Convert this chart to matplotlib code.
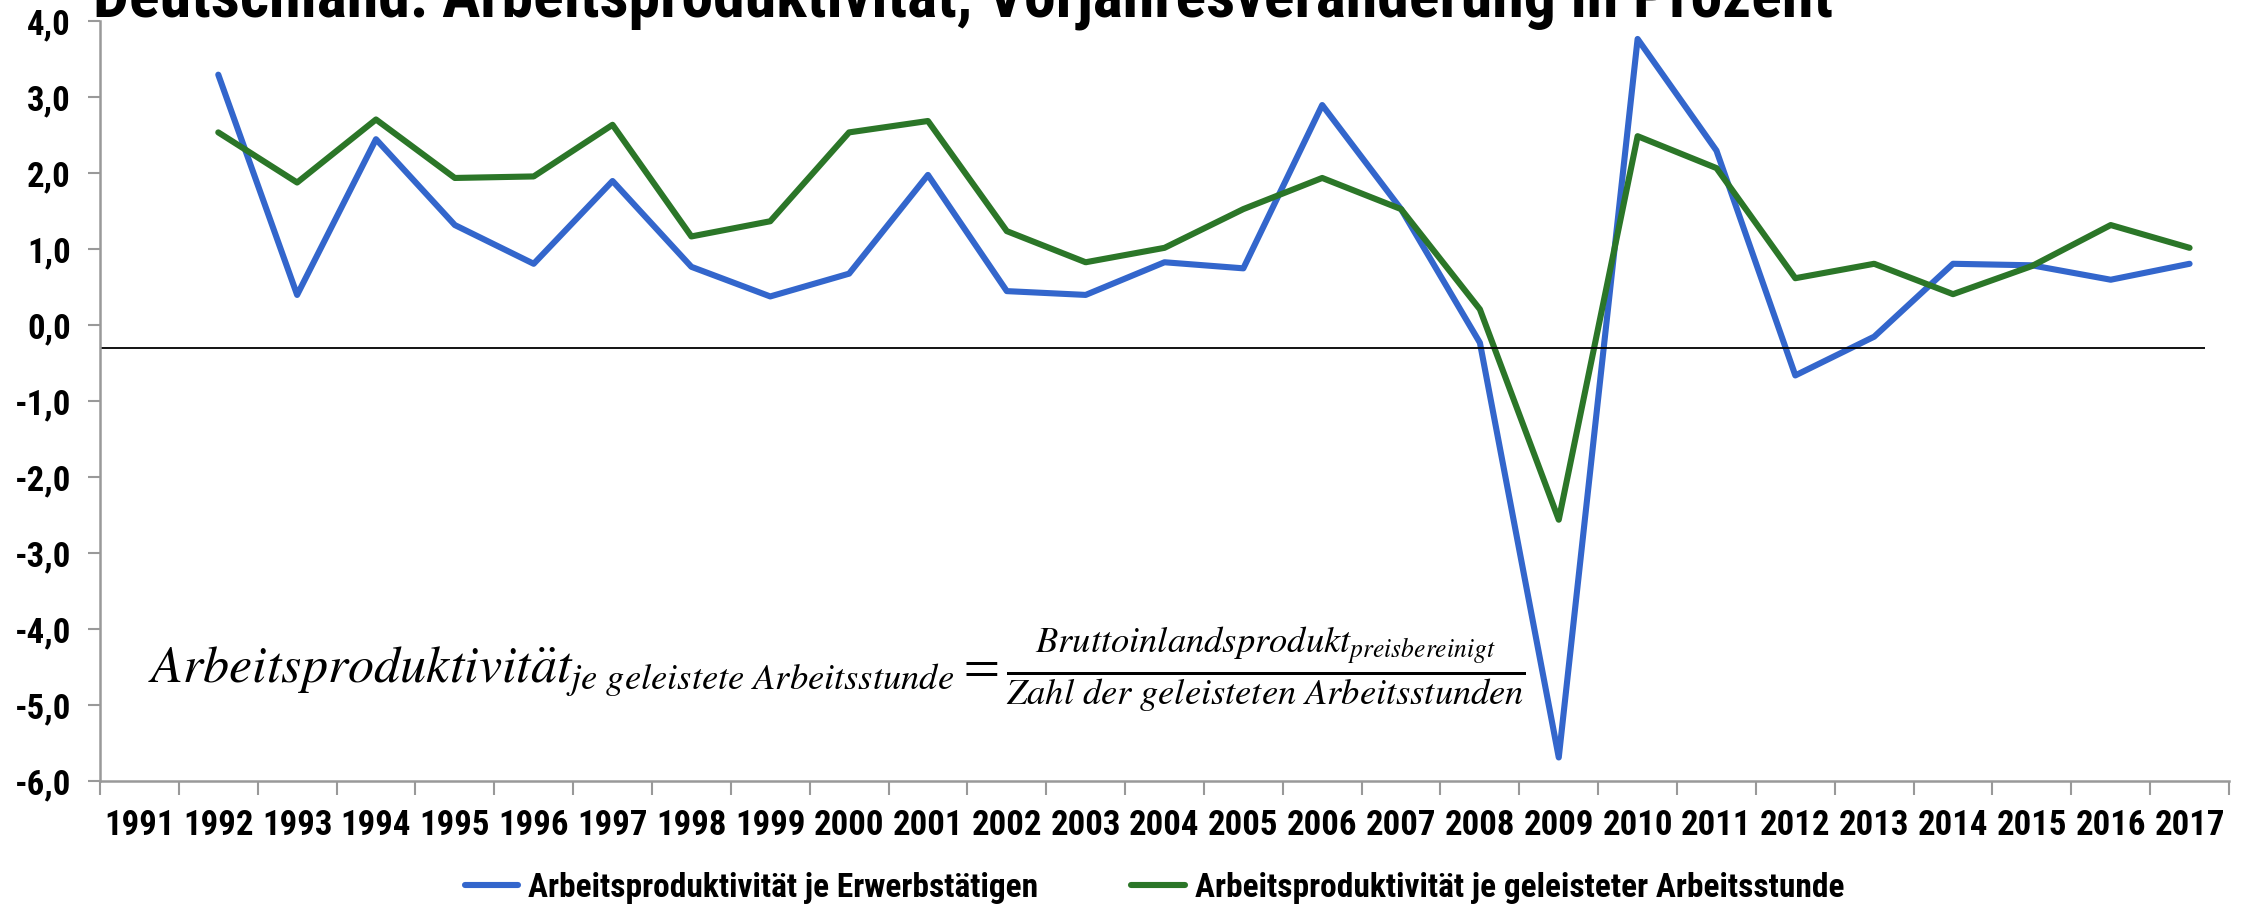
import matplotlib
matplotlib.use('Agg')
import matplotlib.pyplot as plt
from matplotlib import font_manager
import numpy as np

# data: Vorjahresveraenderung in Prozent
jahre = [str(j) for j in range(1991, 2018)]
jahre_daten = list(range(1992, 2018))
je_erwerbstaetigen = [3.3, 0.4, 2.45, 1.32, 0.81, 1.9, 0.77, 0.38, 0.68, 1.98,
                      0.45, 0.4, 0.83, 0.75, 2.9, 1.53, -0.23, -5.69, 3.77, 2.3,
                      -0.66, -0.15, 0.81, 0.79, 0.6, 0.81]
je_arbeitsstunde = [2.54, 1.88, 2.71, 1.94, 1.96, 2.64, 1.17, 1.37, 2.54, 2.69,
                    1.24, 0.83, 1.02, 1.53, 1.94, 1.53, 0.21, -2.56, 2.49, 2.07,
                    0.62, 0.81, 0.41, 0.78, 1.32, 1.02]
y_ticks = [4, 3, 2, 1, 0, -1, -2, -3, -4, -5, -6]
linie = -0.3

# a narrow font if there is one
namen = set((f.name, f.stretch) for f in font_manager.fontManager.ttflist)
familie, stretch = 'DejaVu Sans', 'normal'
for n in ['Liberation Sans Narrow', 'Roboto Condensed', 'Open Sans Condensed']:
    if any(a == n for a, b in namen):
        familie = n
        break
else:
    if ('DejaVu Sans', 'condensed') in namen or ('DejaVu Sans', 'semi-condensed') in namen:
        stretch = 'condensed'

plt.rcParams['font.family'] = [familie, 'DejaVu Sans']
plt.rcParams['font.stretch'] = stretch
plt.rcParams['mathtext.fontset'] = 'stix'

fig = plt.figure(figsize=(22.46, 9.06), dpi=100)
ax = fig.add_axes([100/2246, 1 - 781/906, (2229-100)/2246, (781-21.5)/906])

x = np.array([jahre.index(str(j)) for j in jahre_daten])
ax.plot(x, je_erwerbstaetigen, color='#3366CC', lw=4.4, solid_capstyle='round',
        label='Arbeitsproduktivität je Erwerbstätigen')
ax.plot(x, je_arbeitsstunde, color='#2B7628', lw=4.4, solid_capstyle='round',
        label='Arbeitsproduktivität je geleisteter Arbeitsstunde')
ax.hlines(linie, -0.5, len(jahre) - 0.8, color='black', lw=1.3)

ax.set_xlim(-0.5, len(jahre) - 0.5)
ax.set_ylim(-6, 4)
ax.set_yticks(y_ticks)
ax.set_yticklabels([f'{v:.1f}'.replace('.', ',') for v in y_ticks],
                   fontsize=25, fontweight='bold')
ax.set_xticks(np.arange(len(jahre) + 1) - 0.5)
ax.set_xticklabels([])
ax.set_xticks(np.arange(len(jahre)), minor=True)
ax.set_xticklabels(jahre, minor=True, fontsize=25, fontweight='bold')
ax.tick_params(axis='x', which='minor', length=0, pad=20)
ax.tick_params(axis='x', which='major', length=10, width=1.5, color='#999999', direction='out')
ax.tick_params(axis='y', length=9, width=1.5, color='#999999', pad=12)
for s in ['top', 'right']:
    ax.spines[s].set_visible(False)
for s in ['left', 'bottom']:
    ax.spines[s].set_color('#999999')
    ax.spines[s].set_linewidth(1.8)

# title is cut at the top edge, as in the original
fig.text(93/2246, 1 - 17/906,
         'Deutschland: Arbeitsproduktivität, Vorjahresveränderung in Prozent',
         fontsize=46, fontweight='bold', va='baseline', ha='left')

formel = (r'$Arbeitsproduktivit\ddot{a}t_{je\ geleistete\ Arbeitsstunde}='
          r'\frac{Bruttoinlandsprodukt_{preisbereinigt}}'
          r'{Zahl\ der\ geleisteten\ Arbeitsstunden}$')
fig.text(148/2246, 1 - 669/906, formel, fontsize=37.5, ha='left', va='center')

fig.legend(loc='center', bbox_to_anchor=(0.514, 1 - 888/906), ncol=2,
           frameon=False, prop={'weight': 'bold', 'size': 24},
           handlelength=1.6, columnspacing=2.8, handletextpad=0.3)

fig.savefig('out.png', dpi=100)
